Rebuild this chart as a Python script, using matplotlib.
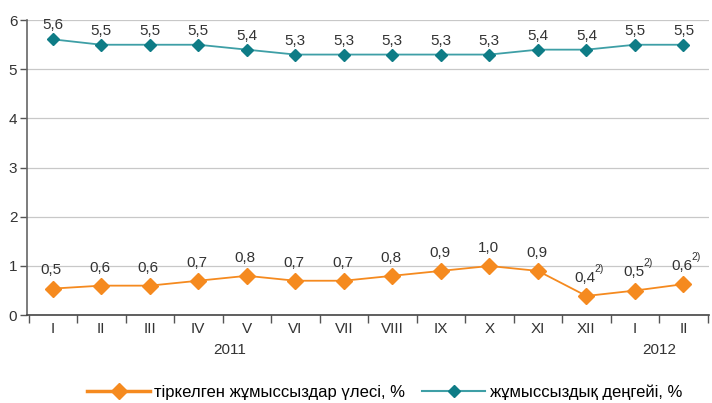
import numpy as np
import matplotlib.pyplot as plt
from matplotlib.lines import Line2D

plt.rcParams['font.family'] = ['Liberation Sans', 'DejaVu Sans']

months = ['I', 'II', 'III', 'IV', 'V', 'VI', 'VII', 'VIII', 'IX', 'X', 'XI', 'XII', 'I', 'II']
years = ['2011', '2012']
share = [0.54, 0.6, 0.6, 0.7, 0.8, 0.7, 0.7, 0.8, 0.9, 1.0, 0.9, 0.39, 0.5, 0.63]
share_lbl = ['0,5', '0,6', '0,6', '0,7', '0,8', '0,7', '0,7', '0,8', '0,9', '1,0', '0,9', '0,4', '0,5', '0,6']
share_note = [''] * 11 + ['2)', '2)', '2)']
rate = [5.61, 5.5, 5.5, 5.5, 5.4, 5.3, 5.3, 5.3, 5.3, 5.3, 5.4, 5.4, 5.5, 5.5]
rate_lbl = ['5,6', '5,5', '5,5', '5,5', '5,4', '5,3', '5,3', '5,3', '5,3', '5,3', '5,4', '5,4', '5,5', '5,5']
names = ['тіркелген жұмыссыздар үлесі, %', 'жұмыссыздық деңгейі, %']

orange = '#F58A1F'
teal_line = '#3E9FA6'
teal_mk = '#0E7C86'
txt = '#333333'

fig = plt.figure(figsize=(7.12, 4.03), dpi=100)
ax = fig.add_axes([0.038, 0.218, 0.958, 0.732])
x = np.arange(len(months))

ax.plot(x, share, color=orange, lw=1.3, marker='D', ms=8, mec=orange, mfc=orange, zorder=3)
ax.plot(x, rate, color=teal_line, lw=1.3, marker='D', ms=6.5, mec=teal_mk, mfc=teal_mk, zorder=3)

for i in x:
    ax.annotate(share_lbl[i], (i, share[i]), xytext=(-1, 8), textcoords='offset points',
                ha='center', va='bottom', fontsize=11, color=txt)
    if share_note[i]:
        ax.annotate(share_note[i], (i, share[i]), xytext=(6, 16), textcoords='offset points',
                    ha='left', va='bottom', fontsize=7.5, color=txt)
    ax.annotate(rate_lbl[i], (i, rate[i]), xytext=(0, 5), textcoords='offset points',
                ha='center', va='bottom', fontsize=11, color=txt)

ax.set_xlim(-0.53, len(months) - 0.47)
ax.set_ylim(0, 6)
ax.set_yticks(range(7))
ax.tick_params(axis='y', labelsize=11, colors='#555555', labelcolor=txt, length=5, width=1, pad=2)
ax.set_xticks(x)
ax.set_xticklabels(months, fontsize=11, color=txt)
ax.tick_params(axis='x', length=0, pad=5)
ax.set_xticks(np.arange(len(months) + 1) - 0.5, minor=True)
ax.tick_params(axis='x', which='minor', length=6, width=1, colors='#555555')
ax.grid(axis='y', color='#C8C8C8', lw=0.9)
ax.set_axisbelow(True)
for s in ['top', 'right']:
    ax.spines[s].set_visible(False)
ax.spines['left'].set_color('#666666')
ax.spines['bottom'].set_color('#444444')
ax.spines['left'].set_linewidth(1.2)
ax.spines['bottom'].set_linewidth(1.2)

xt = ax.get_xaxis_transform()
ax.text(3.65, -0.118, years[0], transform=xt, ha='center', va='center', fontsize=11, color=txt)
ax.text(12.5, -0.118, years[1], transform=xt, ha='center', va='center', fontsize=11, color=txt)

handles = [Line2D([], [], color=orange, lw=2.5, marker='D', ms=8, mfc=orange, mec=orange),
           Line2D([], [], color=teal_line, lw=1.5, marker='D', ms=6.5, mfc=teal_mk, mec=teal_mk)]
fig.legend(handles, names, loc='center', bbox_to_anchor=(0.54, 1 - 392 / 403), ncol=2,
           frameon=False, fontsize=12, handlelength=3.8, handletextpad=0.25, columnspacing=1.0,
           borderaxespad=0, borderpad=0.1)

fig.savefig('out.png', dpi=100)
